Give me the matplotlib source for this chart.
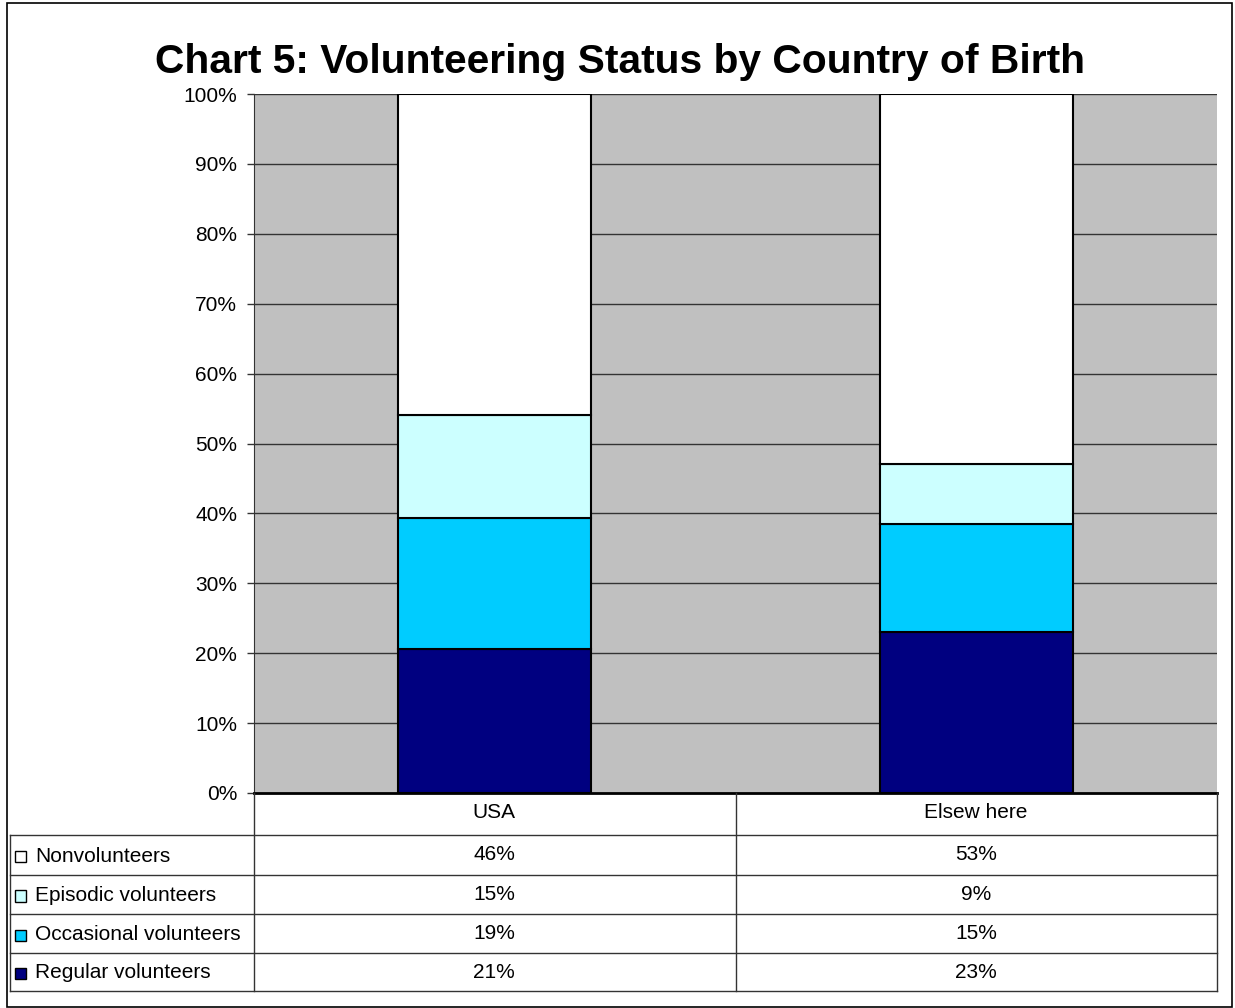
import matplotlib
matplotlib.use("Agg")
import matplotlib.pyplot as plt
from matplotlib.patches import Rectangle
from matplotlib.lines import Line2D

plt.rcParams['font.family'] = ['Liberation Sans', 'DejaVu Sans']

categories = ["USA", "Elsew here"]
series_names = ["Regular volunteers", "Occasional volunteers", "Episodic volunteers", "Nonvolunteers"]
regular = [20.6, 23.1]
occasional = [18.8, 15.4]
episodic = [14.7, 8.6]
nonvol = [45.9, 52.9]
table_regular = ["21%", "23%"]
table_occasional = ["19%", "15%"]
table_episodic = ["15%", "9%"]
table_nonvol = ["46%", "53%"]
colors = ["#000080", "#00CCFF", "#CCFFFF", "#FFFFFF"]
yticks = [0, 10, 20, 30, 40, 50, 60, 70, 80, 90, 100]

FS = 15
W, H = 1235, 1008
fig = plt.figure(figsize=(W / 100, H / 100), dpi=100)
fig.patch.set_facecolor("white")

def fx(px):
    return px / W

def fy(py):
    return 1 - py / H

# outer frame
fig.add_artist(Rectangle((fx(7), fy(1007)), fx(1232) - fx(7), fy(3) - fy(1007),
                         transform=fig.transFigure, fill=False, edgecolor="black", lw=1.2))

# main axes
L, R, T, B = 254, 1217, 94, 793
ax = fig.add_axes([fx(L), fy(B), fx(R) - fx(L), fy(T) - fy(B)])
ax.set_facecolor("#C0C0C0")
ax.set_xlim(-0.5, 1.5)
ax.set_ylim(0, 100)
ax.set_yticks(yticks)
ax.set_yticklabels([f"{t}%" for t in yticks], fontsize=FS)
ax.set_xticks([])
for t in yticks[1:]:
    ax.axhline(t, color="#333333", lw=1.0, zorder=1)
for s in ["top", "right"]:
    ax.spines[s].set_visible(False)
ax.spines["left"].set_color("#333333")
ax.spines["bottom"].set_color("black")
ax.spines["bottom"].set_linewidth(2)
ax.tick_params(axis="y", direction="out", length=5, width=1, color="#333333", pad=7)

x = [0, 1]
bottoms = [0, 0]
for vals, c in zip([regular, occasional, episodic, nonvol], colors):
    ax.bar(x, vals, width=0.4, bottom=bottoms, color=c, edgecolor="black", lw=1.5, zorder=3)
    bottoms = [b + v for b, v in zip(bottoms, vals)]

# title
fig.text(fx(620), fy(62), "Chart 5: Volunteering Status by Country of Birth",
         ha="center", va="center", fontsize=29.3, fontweight="bold")

# data table
lc = "#333333"
def hline(y, x0, x1, lw=1.0, c=lc):
    fig.add_artist(Line2D([fx(x0), fx(x1)], [fy(y), fy(y)], transform=fig.transFigure, color=c, lw=lw))

def vline(xp, y0, y1, lw=1.0, c=lc):
    fig.add_artist(Line2D([fx(xp), fx(xp)], [fy(y0), fy(y1)], transform=fig.transFigure, color=c, lw=lw))

row_lines = [835, 875, 914, 953, 991]
for y in row_lines:
    hline(y, 10, 1217)
vline(10, 835, 991)
vline(254, 793, 991)
vline(736, 793, 991)
vline(1217, 793, 991)

col_centers = [494, 976]
for cx, cat in zip(col_centers, categories):
    fig.text(fx(cx), fy(813), cat, ha="center", va="center", fontsize=FS)

rows = [("Nonvolunteers", table_nonvol, colors[3]),
        ("Episodic volunteers", table_episodic, colors[2]),
        ("Occasional volunteers", table_occasional, colors[1]),
        ("Regular volunteers", table_regular, colors[0])]
for i, (name, vals, c) in enumerate(rows):
    yc = (row_lines[i] + row_lines[i + 1]) / 2
    fig.add_artist(Rectangle((fx(15), fy(yc + 7)), fx(26) - fx(15), fy(yc - 4) - fy(yc + 7),
                             transform=fig.transFigure, facecolor=c, edgecolor="black", lw=1.0))
    fig.text(fx(35), fy(yc + 1), name, ha="left", va="center", fontsize=FS)
    for cx, v in zip(col_centers, vals):
        fig.text(fx(cx), fy(yc), v, ha="center", va="center", fontsize=FS)

fig.savefig("out.png", dpi=100, facecolor="white")
